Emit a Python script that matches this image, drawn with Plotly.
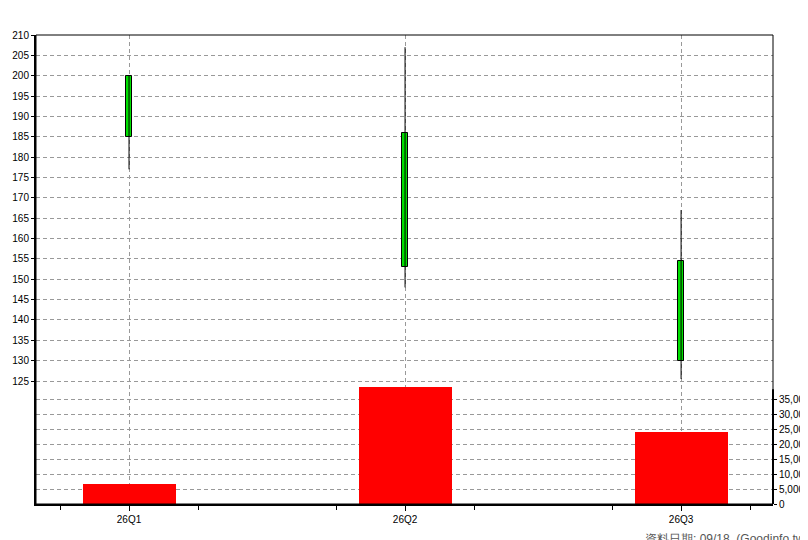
import plotly.graph_objects as go

quarters = ["26Q1", "26Q2", "26Q3"]
open_p = [200, 186, 154.5]
close_p = [185, 153, 130]
high_p = [200, 207, 167]
low_p = [177, 148, 125.5]
volume = [6800, 39300, 24200]

xs = list(range(len(quarters)))

fig = go.Figure()

# volume bars on the right axis
fig.add_trace(go.Bar(x=xs, y=volume, yaxis="y2", width=0.337,
                     marker=dict(color="#ff0000", line=dict(width=0)),
                     showlegend=False, hoverinfo="skip"))

# wicks
for i in xs:
    fig.add_trace(go.Scatter(x=[i, i], y=[low_p[i], high_p[i]], mode="lines",
                             line=dict(color="black", width=1),
                             showlegend=False, hoverinfo="skip"))

# candle bodies
fig.add_trace(go.Bar(x=xs, y=[o - c for o, c in zip(open_p, close_p)], base=close_p,
                     width=0.02, marker=dict(color="#00e000", line=dict(color="black", width=1)),
                     showlegend=False, hoverinfo="skip"))

# legend entries
for name, col in [("年線", "#0066ff"), ("三年", "#ff0066"), ("十年", "#8800ff")]:
    fig.add_trace(go.Scatter(x=[None], y=[None], mode="lines", name=name,
                             line=dict(color=col, width=2)))

grid = dict(showgrid=True, gridcolor="#999999", griddash="4px,3px", gridwidth=1)

fig.update_layout(
    width=808, height=540,
    margin=dict(l=28, r=43, t=27, b=44, autoexpand=False),
    paper_bgcolor="white", plot_bgcolor="white",
    font=dict(family="Liberation Sans, Arial", size=10, color="black"),
    barmode="overlay", bargap=0,
    legend=dict(orientation="h", x=0.5, xanchor="center", y=1.065, yanchor="bottom",
                font=dict(size=12), itemwidth=30, tracegroupgap=0,
                bgcolor="rgba(0,0,0,0)"),
    xaxis=dict(range=[-0.337, 2.333], tickvals=xs, ticktext=quarters, automargin=False,
               showline=True, linecolor="black", linewidth=2, mirror=False,
               ticks="outside", ticklen=5, tickcolor="black",
               minor=dict(tickvals=[-0.25, 0.25, 0.75, 1.25, 1.75, 2.25], ticks="outside",
                          ticklen=4, tickcolor="black", showgrid=False),
               zeroline=False, **grid),
    yaxis=dict(range=[94.8, 210], tickvals=list(range(125, 211, 5)), automargin=False,
               showline=True, linecolor="black", linewidth=2,
               ticks="outside", ticklen=3, tickcolor="black",
               zeroline=False, **grid),
    yaxis2=dict(range=[0, 157400], overlaying="y", side="right", automargin=False,
                tickvals=list(range(0, 35001, 5000)), tickformat=",",
                ticks="outside", ticklen=3, tickcolor="black",
                showline=False, zeroline=False, **grid),
)

# thin frame and partial right axis line
fig.add_shape(type="rect", xref="paper", yref="paper", x0=0, x1=1, y0=0, y1=1,
              line=dict(color="black", width=1), layer="above")
fig.add_shape(type="line", xref="paper", yref="y2", x0=1, x1=1, y0=0, y1=38500,
              line=dict(color="black", width=2), layer="above")

fig.add_annotation(text="資料日期: 09/18  (Goodinfo.tw)", xref="paper", yref="paper",
                   x=1.05, y=-0.055, xanchor="right", yanchor="top", showarrow=False,
                   font=dict(size=12, color="#555555"))

fig.write_html("out.html")
